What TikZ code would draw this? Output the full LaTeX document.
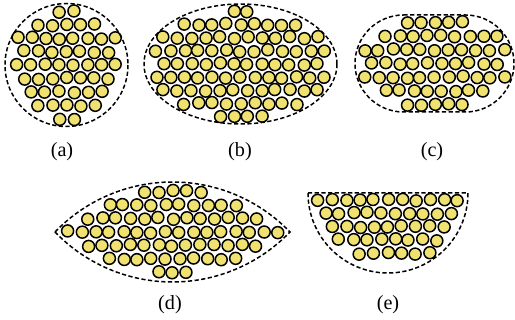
\documentclass[tikz,border=0pt]{standalone}
\usepackage{fontspec}
\setmainfont{Liberation Serif}
\usepackage{tikz}

\definecolor{grainfill}{RGB}{240,226,112}

\tikzset{
  grain/.style={draw=black, line width=0.85pt, fill=grainfill},
  rim/.style={draw=black, line width=0.85pt, dash pattern=on 2.4pt off 1.4pt},
  tag/.style={font=\fontsize{11.5}{13}\selectfont, inner sep=0pt}
}

% spacing and jitter of the grain lattice (px)
\def\gsp{14}
\def\gjit{1.1}

% #1,#2 lattice origin, #3 half width (cols), #4,#5 row range,
% #6 row pitch, #7 row parity, #8 test on \gu,\gv
\newcommand\grains[8]{%
  \foreach \j in {#4,...,#5}{
    \foreach \i in {-#3,...,#3}{
      \pgfmathsetmacro\gx{(\i+0.5*Mod(\j+#7,2))*\gsp+\gjit*rand}
      \pgfmathsetmacro\gy{\j*#6+\gjit*rand}
      \pgfmathsetmacro\gu{\gx/100}
      \pgfmathsetmacro\gv{\gy/100}
      \pgfmathparse{(#8) ? 1 : 0}
      \ifdim\pgfmathresult pt>0.5pt
        \draw[grain] (#1+\gx,#2+\gy) circle[radius=6];
      \fi
    }
  }%
}

\begin{document}
\begin{tikzpicture}[x=0.02cm, y=-0.02cm]
\pgfmathsetseed{7}
\useasboundingbox (0,0) rectangle (515,320);

% (a) circle
\grains{66.5}{65}{5}{-4}{4}{13.4}{1}{\gu*\gu+\gv*\gv<=0.312}
\draw[rim] (66.5,65) circle[radius=61.5];
\node[tag] (la) at (62,152) {(a)};

% (b) ellipse
\grains{240.5}{64}{8}{-4}{4}{13.2}{1}{(\gu/0.905)^2+(\gv/0.54)^2<=1}
\draw[rim] (240.5,64) ellipse[x radius=96.5, y radius=60];
\node[tag] (lb) at (240,152) {(b)};

% (c) stadium
\grains{434.5}{63.5}{7}{-3}{3}{13.7}{1}{(max(abs(\gu)-0.31,0))^2+\gv*\gv<=0.1764}
\draw[rim] (403.5,15) -- (465.5,15) arc[start angle=-90, end angle=90, radius=48.5]
  -- (403.5,112) arc[start angle=90, end angle=270, radius=48.5] -- cycle;
\node[tag] (lc) at (432,152) {(c)};

% (d) lens
\grains{172.5}{232}{9}{-3}{3}{13.5}{1}{(\gu*\gu+(\gv-1.1306)^2<=2.446) && (\gu*\gu+(\gv+1.1306)^2<=2.446)}
\draw[rim] (55,232) arc[start angle=223.9, end angle=316.1, radius=163.06]
  arc[start angle=43.9, end angle=136.1, radius=163.06] -- cycle;
\node[tag] (ld) at (170,305) {(d)};

% (e) half circle
\grains{388}{200}{6}{0}{5}{13.3}{0}{(\gv>=-0.01) && (\gu*\gu+(\gv+0.07)^2<=0.5329)}
\draw[rim] (308,193) -- (468,193) arc[start angle=0, end angle=180, radius=80] -- cycle;
\node[tag] (le) at (388,305) {(e)};

\end{tikzpicture}
\end{document}
